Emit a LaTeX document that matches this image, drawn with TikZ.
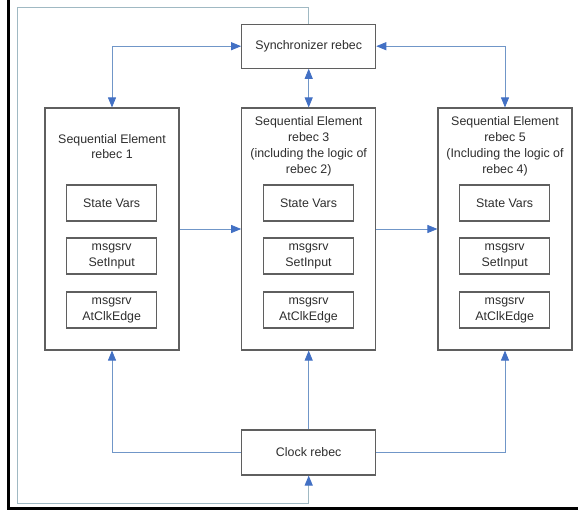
\documentclass[tikz,border=0pt]{standalone}
\usepackage{fontspec}
\setmainfont{Liberation Sans}
\usetikzlibrary{arrows.meta}
\definecolor{boxgray}{RGB}{95,95,95}
\definecolor{txtgray}{RGB}{45,45,45}
\definecolor{linkblue}{RGB}{112,150,200}
\definecolor{tipblue}{RGB}{66,112,196}
\definecolor{fbgray}{RGB}{160,185,195}
\tikzset{
  blk/.style={draw=boxgray, line width=1.1pt, fill=white, minimum width=134pt, inner sep=0pt, font=\fontsize{12.4}{16}\selectfont, text=txtgray},
  outer/.style={draw=boxgray, line width=1.1pt, minimum width=134pt, minimum height=242pt, inner sep=0pt},
  inner/.style={draw=boxgray, line width=1.1pt, minimum width=90pt, minimum height=36pt, inner sep=0pt, align=center, font=\fontsize{12.4}{16}\selectfont, text=txtgray},
  title/.style={align=center, inner sep=0pt, font=\fontsize{12.4}{15.8}\selectfont, text=txtgray},
  link/.style={draw=linkblue, line width=0.8pt},
  tip/.style={-{Triangle[length=10pt,width=8pt,color=tipblue]}},
  bitip/.style={{Triangle[length=10pt,width=8pt,color=tipblue]}-{Triangle[length=10pt,width=8pt,color=tipblue]}},
  fb/.style={draw=fbgray, line width=1pt}
}
\begin{document}
\begin{tikzpicture}[x=1pt,y=-1pt]
\useasboundingbox (0,0) rectangle (578,512);
% black frame (left and bottom)
\draw[black, line width=2.6pt] (8.7,0) -- (8.7,508.5);
\draw[black, line width=3.5pt] (7.4,508.5) -- (578,508.5);

% main boxes
\node[blk, minimum height=44pt] (sync) at (308.7,46.2) {Synchronizer rebec};
\node[blk, minimum height=45pt] (clock) at (308.7,452.5) {Clock rebec};

\node[outer] (sel) at (112,229) {};
\node[outer] (sem) at (308.7,229) {};
\node[outer] (ser) at (505,229) {};

% titles
\node[title] (tl) at (112,146.5) {Sequential Element\\rebec 1};
\node[title] (tm) at (308.7,146.4) {Sequential Element\\rebec 3\\(including the logic of\\rebec 2)};
\node[title] (tr) at (505,146.4) {Sequential Element\\rebec 5\\(Including the logic of\\rebec 4)};

% inner boxes
\foreach \n/\x in {l/111.7, m/308.5, r/504.7}{
  \node[inner] (sv\n) at (\x,203) {State Vars};
  \node[inner] (si\n) at (\x,256) {msgsrv\\SetInput};
  \node[inner] (ck\n) at (\x,310) {msgsrv\\AtClkEdge};
}

% synchronizer links
\draw[link, bitip] (sel.north) |- (sync.west);
\draw[link, bitip] (ser.north) |- (sync.east);
\draw[link, bitip] (sync.south) -- (sem.north);

% element chain
\draw[link, tip] (sel.east) -- (sem.west);
\draw[link, tip] (sem.east) -- (ser.west);

% clock links
\draw[link, tip] (clock.west) -| (sel.south);
\draw[link, tip] (clock.north) -- (sem.south);
\draw[link, tip] (clock.east) -| (ser.south);

% feedback loop
\coordinate (fa) at (17.3,7);
\coordinate (fbb) at (17.3,503);
\draw[fb, tip] (sync.north) |- (fa) -- (fbb) -| (clock.south);
\end{tikzpicture}
\end{document}
